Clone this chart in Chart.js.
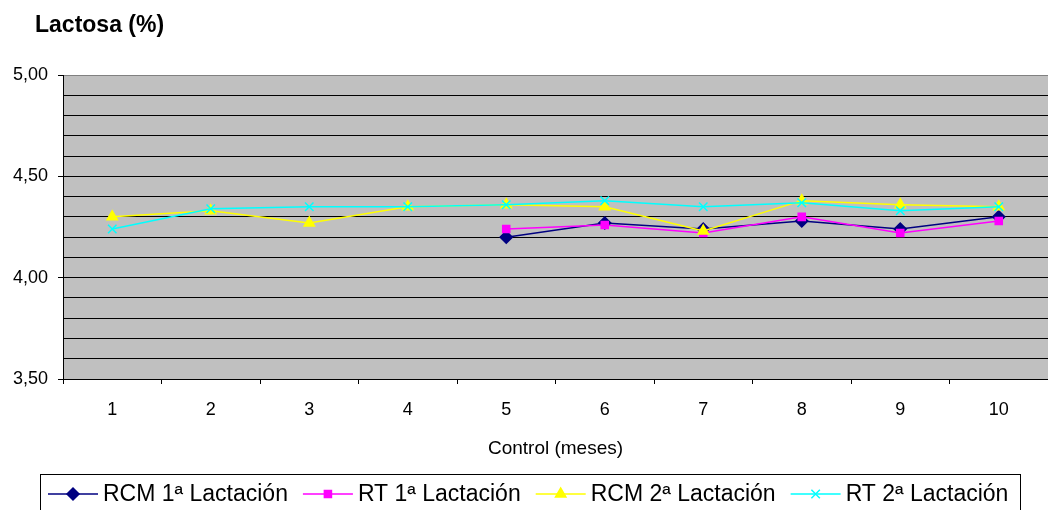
<!DOCTYPE html>
<html>
<head>
<meta charset="utf-8">
<script src="https://cdn.jsdelivr.net/npm/chart.js@4"></script>
<style>
  html, body { margin: 0; padding: 0; background: #fff; }
  #wrap { width: 1048px; height: 510px; }
</style>
</head>
<body>
<div id="wrap"><canvas id="lactosa" width="1048" height="510"></canvas></div>
<script>
// datos del gráfico
const meses = ['1', '2', '3', '4', '5', '6', '7', '8', '9', '10'];
const rcm1 = [null, null, null, null, 4.20, 4.27, 4.24, 4.28, 4.24, 4.30];
const rt1 = [null, null, null, null, 4.24, 4.26, 4.22, 4.30, 4.22, 4.28];
const rcm2 = [4.30, 4.33, 4.27, 4.35, 4.36, 4.35, 4.23, 4.38, 4.36, 4.35];
const rt2 = [4.24, 4.34, 4.35, 4.35, 4.36, 4.38, 4.35, 4.37, 4.33, 4.35];
const series = ['RCM 1ª Lactación', 'RT 1ª Lactación', 'RCM 2ª Lactación', 'RT 2ª Lactación'];

const FONT = '"Liberation Sans", Arial, sans-serif';

function coma(v) {
    return v.toFixed(2).replace('.', ',');
}
function esMayor(v) {
    return Math.round(v * 100) % 50 === 0;
}

// fondo gris del área
const fondo = {
    id: 'fondo',
    beforeDraw(chart) {
        const a = chart.chartArea;
        const ctx = chart.ctx;
        ctx.save();
        ctx.fillStyle = '#C0C0C0';
        ctx.fillRect(a.left, a.top, a.right - a.left, a.bottom - a.top);
        ctx.restore();
    }
};

// título y leyenda
const extras = {
    id: 'extras',
    afterDraw(chart) {
        const ctx = chart.ctx;
        ctx.save();
        ctx.fillStyle = '#000';
        ctx.font = 'bold 23px ' + FONT;
        ctx.textBaseline = 'middle';
        ctx.textAlign = 'left';
        ctx.fillText('Lactosa (%)', 35, 26);

        // caja de la leyenda
        ctx.strokeStyle = '#000';
        ctx.lineWidth = 1;
        ctx.strokeRect(40.5, 474.5, 980, 50);

        ctx.font = '23px ' + FONT;
        const y = 494;
        let x = 48;
        chart.data.datasets.forEach(ds => {
            ctx.strokeStyle = ds.borderColor;
            ctx.fillStyle = ds.pointBackgroundColor;
            ctx.lineWidth = 1.5;
            ctx.beginPath();
            ctx.moveTo(x, y);
            ctx.lineTo(x + 50, y);
            ctx.stroke();
            Chart.helpers.drawPoint(ctx, {
                pointStyle: ds.pointStyle,
                radius: ds.pointRadius,
                borderWidth: 1.5
            }, x + 25, y);
            ctx.fillStyle = '#000';
            ctx.fillText(ds.label, x + 55, y + 1);
            x += 55 + ctx.measureText(ds.label).width + 15;
        });
        ctx.restore();
    }
};

function serie(label, data, color, style, radius, order) {
    return {
        label: label,
        data: data,
        borderColor: color,
        backgroundColor: color,
        pointBackgroundColor: color,
        pointBorderColor: color,
        pointStyle: style,
        pointRadius: radius,
        pointHoverRadius: radius,
        pointBorderWidth: 1.5,
        borderWidth: 1.5,
        tension: 0,
        spanGaps: false,
        order: order
    };
}

const ctx = document.getElementById('lactosa').getContext('2d');
new Chart(ctx, {
    type: 'line',
    data: {
        labels: meses,
        datasets: [
            serie(series[0], rcm1, '#000080', 'rectRot', 6, 3),
            serie(series[1], rt1, '#FF00FF', 'rect', 5, 2),
            serie(series[2], rcm2, '#FFFF00', 'triangle', 6, 1),
            serie(series[3], rt2, '#00FFFF', 'crossRot', 6, 0)
        ]
    },
    options: {
        responsive: false,
        animation: false,
        layout: { autoPadding: false, padding: { top: 75, left: 0, right: 0, bottom: 41 } },
        plugins: {
            legend: { display: false },
            title: { display: false },
            tooltip: { enabled: false }
        },
        scales: {
            x: {
                offset: true,
                grid: {
                    offset: true,
                    drawOnChartArea: false,
                    drawTicks: true,
                    tickLength: 5,
                    color: '#000'
                },
                border: { color: '#000', width: 1 },
                ticks: {
                    color: '#000',
                    font: { family: FONT, size: 18 },
                    padding: 15,
                    maxRotation: 0
                },
                title: {
                    display: true,
                    text: 'Control (meses)',
                    color: '#000',
                    font: { family: FONT, size: 19 },
                    padding: { top: 0, bottom: 9 }
                },
                afterFit(scale) { scale.height = 90; }
            },
            y: {
                min: 3.5,
                max: 5.0,
                grid: {
                    color: c => (c.tick && c.tick.value >= 4.999 ? '#808080' : '#000'),
                    tickColor: c => (c.tick && esMayor(c.tick.value) ? '#000' : 'rgba(0,0,0,0)'),
                    tickLength: 5,
                    lineWidth: 1
                },
                border: { color: '#000', width: 1 },
                ticks: {
                    stepSize: 0.1,
                    autoSkip: false,
                    color: '#000',
                    padding: 10,
                    font: { family: FONT, size: 18 },
                    callback: v => (esMayor(v) ? coma(v) : '')
                },
                afterFit(scale) { scale.width = 63; }
            }
        }
    },
    plugins: [fondo, extras]
});
</script>
</body>
</html>
